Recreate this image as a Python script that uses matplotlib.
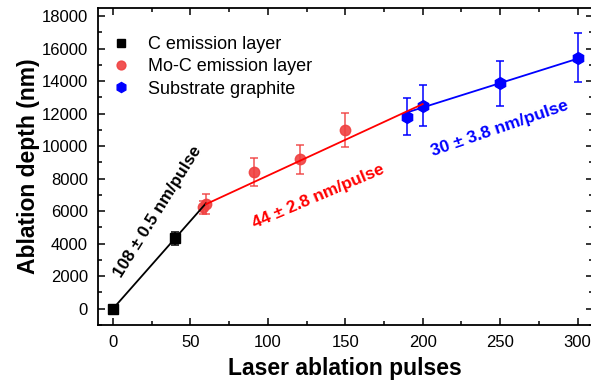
import matplotlib
matplotlib.use("Agg")
import matplotlib.pyplot as plt
import numpy as np
from matplotlib.ticker import MultipleLocator

plt.rcParams['font.family'] = ['Liberation Sans', 'DejaVu Sans']

# Data
c_x = [0, 40]
c_y = [0, 4330]
c_err = [0, 420]

moc_x = [58, 60, 91, 121, 150]
moc_y = [6250, 6450, 8400, 9200, 11000]
moc_err = [400, 620, 850, 890, 1070]

sub_x = [190, 200, 250, 300]
sub_y = [11820, 12500, 13880, 15450]
sub_err = [1160, 1250, 1380, 1520]

# Linear fits (slope, intercept, x range)
fit_c = (108, 0, 0, 60)
fit_moc = (44, 3790, 60, 200)
fit_sub = (30, 6380, 190, 300)

labels = ["C emission layer", "Mo-C emission layer", "Substrate graphite"]
fit_texts = ["108 \u00b1 0.5 nm/pulse", "44 \u00b1 2.8 nm/pulse", "30 \u00b1 3.8 nm/pulse"]

red_pt = (0.94, 0.25, 0.25)
fig = plt.figure(figsize=(5.91, 3.85), dpi=100)
ax = fig.add_axes([97.5/591, 1-325/385, (593-97.5)/591, (325-8)/385])

def fitline(f, color):
    s, b, x0, x1 = f
    xs = np.array([x0, x1])
    ax.plot(xs, s*xs + b, color=color, lw=1.3, zorder=4)

fitline(fit_c, 'black')
fitline(fit_sub, 'blue')
fitline(fit_moc, 'red')

ax.errorbar(c_x, c_y, yerr=c_err, fmt='s', color='black', ms=6.5, capsize=3,
            elinewidth=1.1, capthick=1.1, label=labels[0], zorder=3)
ax.errorbar(moc_x, moc_y, yerr=moc_err, fmt='o', color=red_pt, ms=7.5, capsize=3,
            elinewidth=1.1, capthick=1.1, label=labels[1], zorder=3, alpha=0.9)
ax.errorbar(sub_x, sub_y, yerr=sub_err, fmt='h', color='blue', ms=8.5, capsize=3,
            elinewidth=1.1, capthick=1.1, label=labels[2], zorder=3)

ax.text(28.7, 5940, fit_texts[0], rotation=58, rotation_mode='anchor', ha='center', va='center',
        fontsize=12.3, fontweight='bold', color='black')
ax.text(132.7, 6920, fit_texts[1], rotation=23, rotation_mode='anchor', ha='center', va='center',
        fontsize=12.3, fontweight='bold', color='red')
ax.text(249.5, 11080, fit_texts[2], rotation=19, rotation_mode='anchor', ha='center', va='center',
        fontsize=12.5, fontweight='bold', color='blue')

ax.set_xlim(-10, 310)
ax.set_ylim(-1000, 18500)
ax.xaxis.set_major_locator(MultipleLocator(50))
ax.xaxis.set_minor_locator(MultipleLocator(25))
ax.yaxis.set_major_locator(MultipleLocator(2000))
ax.yaxis.set_minor_locator(MultipleLocator(1000))
ax.tick_params(which='both', direction='in', top=True, right=True, labelsize=12, width=1.1)
ax.tick_params(which='major', length=5, pad=7)
ax.tick_params(which='minor', length=3)
for sp in ax.spines.values():
    sp.set_linewidth(1.3)

ax.set_xlabel("Laser ablation pulses", fontsize=16.5, fontweight='bold', labelpad=5)
ax.set_ylabel("Ablation depth (nm)", fontsize=16.5, fontweight='bold', labelpad=1)

handles, labs = ax.get_legend_handles_labels()
handles = [h[0] for h in handles]
ax.legend(handles, labs, loc='upper left', bbox_to_anchor=(0.03, 0.912), frameon=False,
          fontsize=13, handlelength=1.0, handletextpad=0.95, labelspacing=0.3,
          borderpad=0, borderaxespad=0, markerscale=0.85)

fig.savefig("out.png", dpi=100)
